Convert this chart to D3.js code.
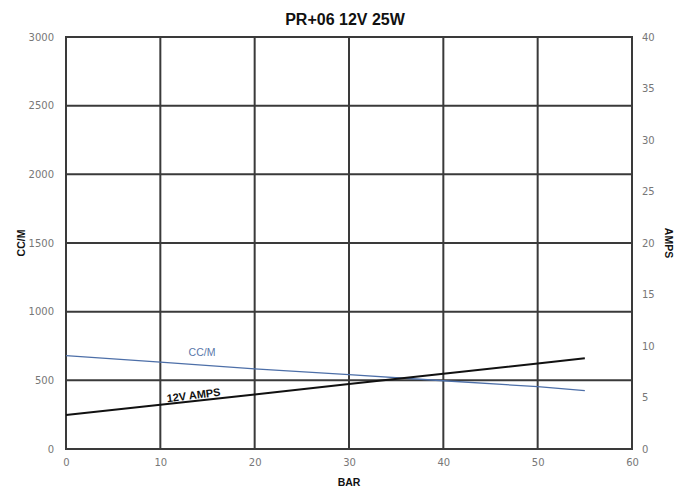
<!DOCTYPE html>
<html>
<head>
<meta charset="utf-8">
<script src="https://cdn.jsdelivr.net/npm/d3@7"></script>
<style>
html,body{margin:0;padding:0;background:#fff;}
svg{display:block;font-family:"Liberation Sans",Arial,sans-serif;}
</style>
</head>
<body>
<svg id="chart" width="688" height="490"></svg>
<script>
const title = "PR+06 12V 25W";
const barTicks = [0, 10, 20, 30, 40, 50, 60];
const ccmTicks = [0, 500, 1000, 1500, 2000, 2500, 3000];
const ampTicks = [0, 5, 10, 15, 20, 25, 30, 35, 40];
const pressure = [0, 10, 20, 30, 40, 50, 55];
const ccm = [680, 633, 583, 541, 497, 454, 425];
const amps = [3.3, 4.3, 5.3, 6.3, 7.3, 8.3, 8.8];

const svg = d3.select("#chart");
const m = {l: 66, r: 56, t: 37, b: 41};
const W = 688, H = 490;
const x = d3.scaleLinear().domain([0, 60]).range([m.l, W - m.r]);
const yL = d3.scaleLinear().domain([0, 3000]).range([H - m.b, m.t]);
const yR = d3.scaleLinear().domain([0, 40]).range([H - m.b, m.t]);

const gridColor = "#3a3a3a";
const tickColor = "#777";

// grid
svg.append("g").selectAll("line.v").data(barTicks.slice(1, -1)).join("line")
  .attr("x1", d => x(d)).attr("x2", d => x(d))
  .attr("y1", yL(0)).attr("y2", yL(3000))
  .attr("stroke", gridColor).attr("stroke-width", 2);
svg.append("g").selectAll("line.h").data(ccmTicks.slice(1, -1)).join("line")
  .attr("x1", x(0)).attr("x2", x(60))
  .attr("y1", d => yL(d)).attr("y2", d => yL(d))
  .attr("stroke", gridColor).attr("stroke-width", 2);
svg.append("rect")
  .attr("x", x(0)).attr("y", yL(3000))
  .attr("width", x(60) - x(0)).attr("height", yL(0) - yL(3000))
  .attr("fill", "none").attr("stroke", gridColor).attr("stroke-width", 2);

// axes (labels only)
const fmt = d3.format("d");
const axL = d3.axisLeft(yL).tickValues(ccmTicks).tickFormat(fmt).tickSize(0).tickPadding(12);
const axR = d3.axisRight(yR).tickValues(ampTicks).tickFormat(fmt).tickSize(0).tickPadding(10);
const axB = d3.axisBottom(x).tickValues(barTicks).tickFormat(fmt).tickSize(0).tickPadding(10);
function style(g){
  g.select(".domain").remove();
  g.selectAll("text").attr("fill", tickColor).style("font-size", "10px")
   .style("font-family", "'DejaVu Sans', sans-serif");
}
svg.append("g").attr("transform", `translate(${x(0)},0)`).call(axL).call(style);
svg.append("g").attr("transform", `translate(${x(60)},0)`).call(axR).call(style);
svg.append("g").attr("transform", `translate(0,${yL(0)})`).call(axB).call(style);

// lines
const ccmData = pressure.map((p, i) => [p, ccm[i]]);
const ampData = pressure.map((p, i) => [p, amps[i]]);
svg.append("path").datum(ccmData)
  .attr("d", d3.line().x(d => x(d[0])).y(d => yL(d[1])))
  .attr("fill", "none").attr("stroke", "#4d6fa8").attr("stroke-width", 1.3);
svg.append("path").datum(ampData)
  .attr("d", d3.line().x(d => x(d[0])).y(d => yR(d[1])))
  .attr("fill", "none").attr("stroke", "#111").attr("stroke-width", 2);

// series labels
svg.append("text").attr("x", 202).attr("y", 356).attr("text-anchor", "middle")
  .attr("fill", "#5a78aa").style("font-size", "10.5px").text("CC/M");
svg.append("text").attr("transform", "translate(194,399) rotate(-7)").attr("text-anchor", "middle")
  .attr("fill", "#111").style("font-size", "11px").style("font-weight", "bold").text("12V AMPS");

// titles
svg.append("text").attr("x", 345).attr("y", 25).attr("text-anchor", "middle")
  .attr("fill", "#111").style("font-size", "16px").style("font-weight", "bold").text(title);
svg.append("text").attr("transform", `translate(25,${yL(1500)}) rotate(-90)`).attr("text-anchor", "middle")
  .attr("fill", "#111").style("font-size", "10.5px").style("font-weight", "bold").text("CC/M");
svg.append("text").attr("transform", `translate(665,${yL(1500)}) rotate(90)`).attr("text-anchor", "middle")
  .attr("fill", "#111").style("font-size", "10.5px").style("font-weight", "bold").text("AMPS");
svg.append("text").attr("x", x(30)).attr("y", 486).attr("text-anchor", "middle")
  .attr("fill", "#111").style("font-size", "10.5px").style("font-weight", "bold").text("BAR");
</script>
</body>
</html>
